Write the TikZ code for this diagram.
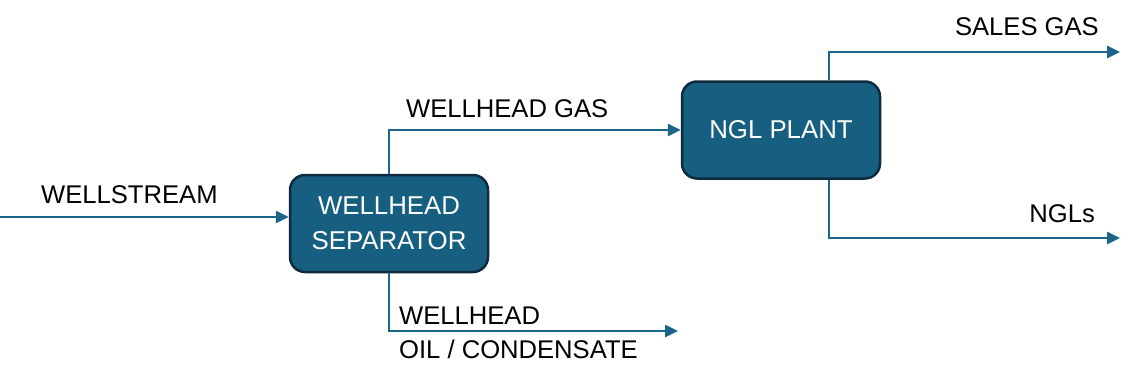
\documentclass[tikz,border=0pt]{standalone}
\usepackage{fontspec}
\setmainfont{Liberation Sans}
\usetikzlibrary{arrows.meta,positioning}
\definecolor{UnitClr}{HTML}{175F80}
\definecolor{EdgeClr}{HTML}{0E2A3C}
\definecolor{LineClr}{HTML}{1B6589}

\begin{document}
\begin{tikzpicture}[x=1pt,y=-1pt,
  unit/.style={draw=EdgeClr,line width=2.5pt,fill=UnitClr,rounded corners=15pt,
    minimum width=198pt,minimum height=97pt,inner sep=0pt,text=white,align=center,
    font=\fontsize{25.8}{35}\selectfont},
  stream/.style={draw=LineClr,line width=2.5pt,-{Triangle[length=13pt,width=12pt]}},
  lbl/.style={inner sep=0pt,font=\fontsize{25.6}{35}\selectfont}]
\useasboundingbox (0,0) rectangle (1133,386);

\node[unit] (sep) at (389,223.5) {WELLHEAD\\SEPARATOR};
\node[unit] (plant) at (781,130) {NGL PLANT};

\coordinate (feed) at (0,217);
\coordinate (oil) at (678,331);
\coordinate (sales) at (1120,52);
\coordinate (ngl) at (1120,238);

\draw[stream] (feed) -- (feed -| sep.west);
\draw[stream] (sep.north) |- (plant.west);
\draw[stream] (sep.south) |- (oil);
\draw[stream] ([xshift=48pt]plant.north) |- (sales);
\draw[stream] ([xshift=48pt]plant.south) |- (ngl);

\node[lbl,anchor=base west] (lfeed) at (41,203) {WELLSTREAM};
\node[lbl,anchor=base west] (lgas) at (406,117) {WELLHEAD GAS};
\node[lbl,anchor=base west] (loil) at (399,324) {WELLHEAD};
\node[lbl,anchor=base west] (lcond) at (399,358) {OIL / CONDENSATE};
\node[lbl,anchor=base east] (lsales) at (1099,35) {SALES GAS};
\node[lbl,anchor=base east] (lngl) at (1095,222) {NGLs};

\end{tikzpicture}
\end{document}
